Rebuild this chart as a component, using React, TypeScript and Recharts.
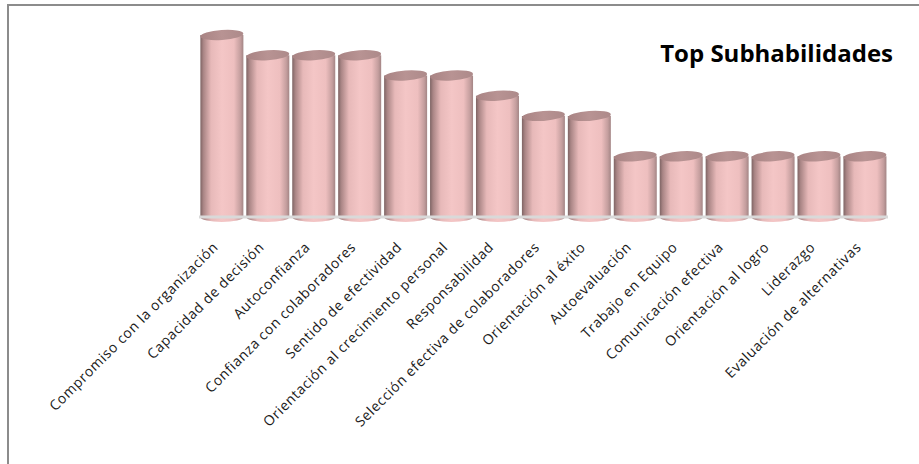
import { BarChart, Bar, XAxis, YAxis } from "recharts";

const categories = [
  "Compromiso con la organización",
  "Capacidad de decisión",
  "Autoconfianza",
  "Confianza con colaboradores",
  "Sentido de efectividad",
  "Orientación al crecimiento personal",
  "Responsabilidad",
  "Selección efectiva de colaboradores",
  "Orientación al éxito",
  "Autoevaluación",
  "Trabajo en Equipo",
  "Comunicación efectiva",
  "Orientación al logro",
  "Liderazgo",
  "Evaluación de alternativas",
];

const values = [9, 8, 8, 8, 7, 7, 6, 5, 5, 3, 3, 3, 3, 3, 3];

const data = categories.map((name, i) => ({ name, value: values[i] }));

// cylinder bar: gradient body + darker top ellipse
function Cylinder(props: any) {
  const { x, y, width, height } = props;
  if (height <= 0) return null;
  const rx = width / 2;
  const ry = 5;
  const cx = x + rx;
  return (
    <g>
      <path
        d={`M${x},${y} L${x},${y + height} A${rx},${ry} 0 0 0 ${x + width},${y + height} L${x + width},${y} Z`}
        fill="url(#cylBody)"
      />
      <ellipse
        cx={cx}
        cy={y}
        rx={rx}
        ry={ry}
        fill="url(#cylTop)"
        transform={`rotate(-4, ${cx}, ${y})`}
      />
    </g>
  );
}

function SlantTick(props: any) {
  const { x, y, payload } = props;
  const tx = x - 3;
  const ty = y + 23;
  return (
    <text
      x={tx}
      y={ty}
      textAnchor="end"
      fontSize={14}
      letterSpacing={0.6}
      fontFamily="'Open Sans', sans-serif"
      fill="#1a1a1a"
      transform={`rotate(-45, ${tx}, ${ty})`}
    >
      {payload.value}
    </text>
  );
}

export default function App() {
  return (
    <div style={{ position: "absolute", left: 0, top: 0, width: 919, height: 464, background: "#fff", overflow: "hidden" }}>
      {/* chart frame, cropped on the right and bottom */}
      <div
        style={{
          position: "absolute",
          left: 7,
          top: 4,
          width: 930,
          height: 480,
          borderTop: "2px solid #8c8c8c",
          borderLeft: "2px solid #8c8c8c",
        }}
      />
      <BarChart
        width={919}
        height={464}
        data={data}
        margin={{ top: 35, right: 31, left: 199, bottom: 0 }}
        barCategoryGap="3%"
        style={{ position: "absolute", left: 0, top: 0 }}
      >
        <defs>
          <linearGradient id="cylBody" x1="0" y1="0" x2="1" y2="0">
            <stop offset="0" stopColor="#7e6464" />
            <stop offset="0.07" stopColor="#a98585" />
            <stop offset="0.25" stopColor="#e7b9b9" />
            <stop offset="0.5" stopColor="#f4c6c6" />
            <stop offset="0.78" stopColor="#eebfbf" />
            <stop offset="0.93" stopColor="#c49e9e" />
            <stop offset="1" stopColor="#a38585" />
          </linearGradient>
          <linearGradient id="cylTop" x1="0" y1="0" x2="1" y2="0">
            <stop offset="0" stopColor="#a88383" />
            <stop offset="0.5" stopColor="#b89393" />
            <stop offset="1" stopColor="#ad8a8a" />
          </linearGradient>
        </defs>
        <YAxis hide domain={[0, 9]} />
        <XAxis
          dataKey="name"
          interval={0}
          height={247}
          axisLine={{ stroke: "#d9d9d9", strokeWidth: 3 }}
          tickLine={false}
          tick={<SlantTick />}
        />
        <Bar dataKey="value" shape={<Cylinder />} isAnimationActive={false} />
        <text
          x={893}
          y={62}
          textAnchor="end"
          fontSize={24}
          fontWeight={700}
          fontFamily="'Open Sans', sans-serif"
          fill="#000"
        >
          Top Subhabilidades
        </text>
      </BarChart>
    </div>
  );
}
